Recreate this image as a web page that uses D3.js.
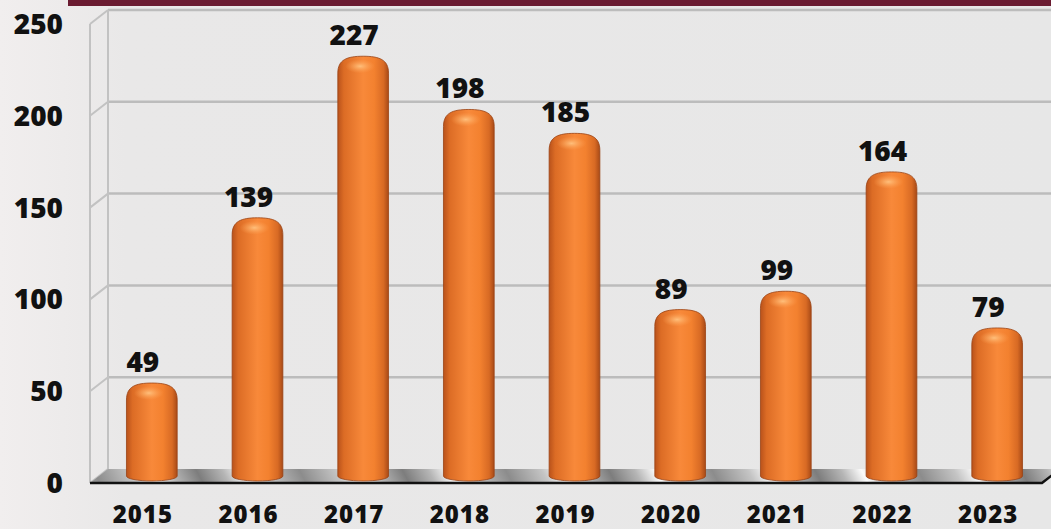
<!DOCTYPE html>
<html>
<head>
  <style>
  body {
    margin: 0;
    background: #e8e7e7;
  }
  svg text {
    font-family: "Open Sans", "DejaVu Sans", sans-serif;
    font-weight: 800;
    fill: #111;
  }
  .axis .domain, .axis .tick line {
    display: none;
  }
  </style>
</head>
<body>
  <div id="chart"></div>
  <script src="https://d3js.org/d3.v7.min.js"></script>
  <script>
  var years = ["2015", "2016", "2017", "2018", "2019", "2020", "2021", "2022", "2023"];
  var values = [49, 139, 227, 198, 185, 89, 99, 164, 79];
  var yTicks = [0, 50, 100, 150, 200, 250];

  var width = 1051, height = 529;
  // 3d depth of the plot box (back wall -> front edge)
  var depth = {dx: 18, dy: 14};
  var barShift = {dx: 9, dy: 7};

  var svg = d3.select("#chart").append("svg")
      .attr("width", width)
      .attr("height", height);

  var defs = svg.append("defs");

  var bg = defs.append("linearGradient").attr("id", "bg");
  bg.append("stop").attr("offset", "0%").attr("stop-color", "#f1eeee");
  bg.append("stop").attr("offset", "12%").attr("stop-color", "#e9e8e8");
  bg.append("stop").attr("offset", "100%").attr("stop-color", "#e7e7e7");

  var barGrad = defs.append("linearGradient").attr("id", "bar-grad");
  [[0, "#b9521b"], [0.12, "#dc6c25"], [0.5, "#f8893a"], [0.72, "#f3812f"], [0.9, "#d86a24"], [1, "#a84a17"]]
    .forEach(function(s){
      barGrad.append("stop").attr("offset", (s[0] * 100) + "%").attr("stop-color", s[1]);
    });

  var shine = defs.append("radialGradient").attr("id", "shine");
  shine.append("stop").attr("offset", "0%").attr("stop-color", "#ffc27f").attr("stop-opacity", 0.95);
  shine.append("stop").attr("offset", "100%").attr("stop-color", "#ffa355").attr("stop-opacity", 0);

  var floorGrad = defs.append("linearGradient").attr("id", "floor-grad")
      .attr("gradientUnits", "userSpaceOnUse")
      .attr("x1", 100).attr("y1", 483).attr("x2", 180).attr("y2", 440)
      .attr("spreadMethod", "reflect");
  [[0, "#8c8c8c"], [0.35, "#c4c4c4"], [0.55, "#fbfbfb"], [0.75, "#b5b5b5"], [1, "#7d7d7d"]]
    .forEach(function(s){
      floorGrad.append("stop").attr("offset", (s[0] * 100) + "%").attr("stop-color", s[1]);
    });

  svg.append("rect")
      .attr("width", width)
      .attr("height", height)
      .attr("fill", "url(#bg)");

  // title band
  svg.append("rect")
      .attr("x", 68)
      .attr("width", width - 68)
      .attr("height", 6)
      .attr("fill", "#6a1b31");

  var y = d3.scaleLinear()
    .domain([0, 250])
    .range([469, 10]);

  var x = d3.scaleBand()
    .domain(years)
    .range([90, 1041])
    .paddingInner(0.52)
    .paddingOuter(0.26);

  var backLeft = 90 + depth.dx;

  // back wall gridlines
  svg.append("g").selectAll("line")
      .data(yTicks.filter(function(d){ return d > 0; }))
    .enter().append("line")
      .attr("x1", backLeft)
      .attr("x2", width)
      .attr("y1", function(d){ return y(d); })
      .attr("y2", function(d){ return y(d); })
      .attr("stroke", "#bcbcbc")
      .attr("stroke-width", 2.5);

  // side wall
  var side = svg.append("g")
      .attr("stroke", "#c2c2c2")
      .attr("stroke-width", 2)
      .attr("fill", "none");
  side.append("line")
      .attr("x1", backLeft).attr("x2", backLeft)
      .attr("y1", y(250)).attr("y2", y(0));
  side.append("line")
      .attr("x1", backLeft - depth.dx).attr("x2", backLeft - depth.dx)
      .attr("y1", y(250) + depth.dy).attr("y2", y(0) + depth.dy);
  side.selectAll("line.diag")
      .data(yTicks)
    .enter().append("line")
      .attr("class", "diag")
      .attr("x1", backLeft - depth.dx)
      .attr("x2", backLeft)
      .attr("y1", function(d){ return y(d) + depth.dy; })
      .attr("y2", function(d){ return y(d); });

  // floor
  var y0 = y(0);
  svg.append("path")
      .attr("d", "M" + backLeft + "," + y0 + "L" + (1042 + depth.dx) + "," + y0 +
        "L1042," + (y0 + depth.dy) + "L" + (backLeft - depth.dx) + "," + (y0 + depth.dy) + "Z")
      .attr("fill", "url(#floor-grad)");
  svg.append("path")
      .attr("d", "M" + (backLeft - depth.dx) + "," + (y0 + depth.dy) + "L1042," + (y0 + depth.dy) +
        "L" + (1042 + depth.dx) + "," + y0)
      .attr("fill", "none")
      .attr("stroke", "#111")
      .attr("stroke-width", 2.5);

  // cylinders
  var bw = x.bandwidth();
  function barPath(d, i){
    var cx = x(years[i]) + bw / 2 + barShift.dx;
    var l = cx - bw / 2, r = cx + bw / 2;
    var t = y(d) + 4;
    var b = y0 + barShift.dy;
    var rc = 17;
    return "M" + l + "," + b +
      "L" + l + "," + (t + rc) +
      "C" + l + "," + (t + rc * 0.2) + " " + (l + bw * 0.18) + "," + t + " " + cx + "," + t +
      "C" + (r - bw * 0.18) + "," + t + " " + r + "," + (t + rc * 0.2) + " " + r + "," + (t + rc) +
      "L" + r + "," + b +
      "A" + (bw / 2) + ",5 0 0 1 " + l + "," + b + "Z";
  }

  var bars = svg.append("g").selectAll("g")
      .data(values)
    .enter().append("g");

  bars.append("path")
      .attr("d", barPath)
      .attr("fill", "url(#bar-grad)")
      .attr("stroke", "#9a4314")
      .attr("stroke-width", 0.8);

  bars.append("ellipse")
      .attr("cx", function(d, i){ return x(years[i]) + bw / 2 + barShift.dx - 3; })
      .attr("cy", function(d){ return y(d) + 14; })
      .attr("rx", 15)
      .attr("ry", 7)
      .attr("fill", "url(#shine)");

  // value labels
  svg.append("g").selectAll("text")
      .data(values)
    .enter().append("text")
      .attr("x", function(d, i){ return x(years[i]) + bw / 2; })
      .attr("y", function(d){ return y(d) - 7; })
      .attr("text-anchor", "middle")
      .style("font-size", "28px")
      .text(function(d){ return d; });

  // y axis (labels sit on the front edge)
  svg.append("g")
      .attr("class", "axis")
      .attr("transform", "translate(71," + depth.dy + ")")
      .call(d3.axisLeft(y).tickValues(yTicks).tickSize(0).tickPadding(8))
      .selectAll("text")
        .attr("dy", "0.34em")
        .style("font-size", "28px")
        .style("fill", "#111");

  // x axis
  svg.append("g")
      .attr("class", "axis")
      .attr("transform", "translate(0,523)")
      .call(d3.axisBottom(x).tickSize(0).tickPadding(0))
      .selectAll("text")
        .attr("y", 0)
        .attr("dy", 0)
        .style("font-size", "24px")
        .style("letter-spacing", "1px")
        .style("fill", "#111");
  </script>
</body>
</html>
